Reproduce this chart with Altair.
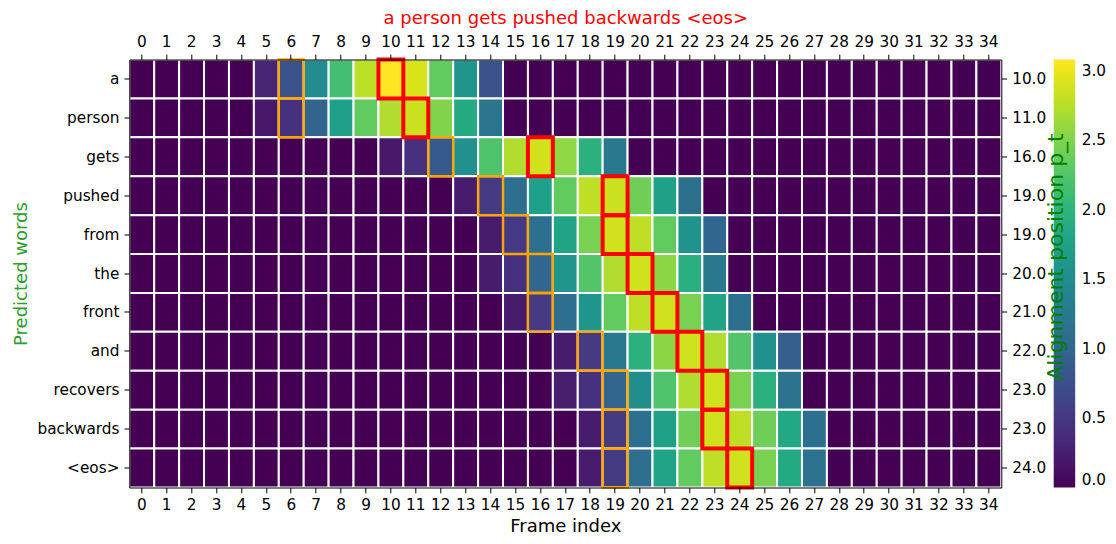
import json
import altair as alt
import pandas as pd

# ---------------- data ----------------
WORDS = ["a", "person", "gets", "pushed", "from", "the", "front", "and",
         "recovers", "backwards", "<eos>"]
FRAMES = list(range(35))
P_T = [10.0, 11.0, 16.0, 19.0, 19.0, 20.0, 21.0, 22.0, 23.0, 23.0, 24.0]
ORANGE_FRAMES = [6, 6, 12, 14, 15, 16, 16, 18, 19, 19, 19]
ROW_START = [5, 5, 10, 13, 14, 14, 15, 17, 17, 18, 18]
ROW_VALUES = [
    [0.31, 0.77, 1.48, 2.16, 2.77, 3.08, 2.90, 2.34, 1.60, 0.77],
    [0.20, 0.43, 0.98, 1.75, 2.34, 2.72, 2.84, 2.50, 1.88, 1.20],
    [0.20, 0.42, 0.86, 1.54, 2.22, 2.72, 2.87, 2.56, 1.97, 1.23],
    [0.22, 0.52, 1.10, 1.75, 2.34, 2.78, 2.84, 2.40, 1.76, 1.13],
    [0.22, 0.50, 1.12, 1.80, 2.46, 2.86, 2.78, 2.34, 1.58, 1.02],
    [0.22, 0.43, 1.00, 1.60, 2.25, 2.72, 2.86, 2.55, 1.94, 1.23],
    [0.22, 0.52, 1.10, 1.62, 2.34, 2.78, 2.86, 2.46, 1.80, 1.12],
    [0.22, 0.52, 1.23, 1.97, 2.55, 2.86, 2.72, 2.25, 1.54, 0.92],
    [0.24, 0.43, 1.00, 1.50, 2.22, 2.72, 2.86, 2.46, 1.97, 1.18],
    [0.22, 0.52, 1.12, 1.76, 2.40, 2.86, 2.78, 2.40, 1.85, 1.12],
    [0.22, 0.52, 1.10, 1.80, 2.34, 2.78, 2.86, 2.46, 1.88, 1.16],
]
COLOR_MAX = 3.08
CBAR_TICKS = [0.0, 0.5, 1.0, 1.5, 2.0, 2.5, 3.0]
TITLE = "a person gets pushed backwards <eos>"
CBAR_TITLE = "Alignment position p_t"

# ---------------- tables ----------------
rows = []
for i, w in enumerate(WORDS):
    s = ROW_START[i]
    vals = ROW_VALUES[i]
    for f in FRAMES:
        v = vals[f - s] if s <= f < s + len(vals) else 0.0
        rows.append({"word": w, "frame": f, "value": v})
heat_df = pd.DataFrame(rows)
orange_df = pd.DataFrame({"word": WORDS, "frame": ORANGE_FRAMES})
red_df = pd.DataFrame({"word": WORDS, "frame": [int(p) for p in P_T]})
PT_LABELS = [f"{p:.1f}" for p in P_T]

FONT = "DejaVu Sans"
W, H = 872, 428
TICK_FS = 15.3
LABEL_FS = 18

xscale = alt.Scale(paddingInner=0, paddingOuter=0)
yscale = alt.Scale(paddingInner=0, paddingOuter=0)

common_axis = dict(labelFont=FONT, labelFontSize=TICK_FS, labelColor="black",
                   tickColor="black", tickSize=5.35, tickWidth=1,
                   domainColor="black", domainWidth=1, labelPadding=5,
                   titleFont=FONT, titleFontWeight="normal",
                   grid=False, zindex=1, labelOverlap=False)

heat = alt.Chart(heat_df).mark_rect(stroke="white", strokeWidth=2).encode(
    x=alt.X("frame:O", sort="ascending", scale=xscale,
            axis=alt.Axis(orient="bottom", title="Frame index", labelAngle=0,
                          titleColor="black", titleFontSize=LABEL_FS,
                          titleX=W / 2, titleY=44,
                          titleAlign="center", titleBaseline="alphabetic",
                          **common_axis)),
    y=alt.Y("word:N", sort=WORDS, scale=yscale,
            axis=alt.Axis(orient="left", title="Predicted words", labelAngle=0,
                          titleColor="#2ca02c", titleFontSize=LABEL_FS,
                          titleAngle=270,
                          titleX=-102.5, titleY=H / 2, titleAlign="center",
                          titleBaseline="alphabetic", **common_axis)),
    color=alt.Color("value:Q",
                    scale=alt.Scale(scheme="viridis", domain=[0, COLOR_MAX]),
                    legend=alt.Legend(orient="none", legendX=924.4, legendY=0,
                                      direction="vertical", title=None,
                                      gradientLength=H, gradientThickness=21.5,
                                      values=CBAR_TICKS, format=".1f",
                                      labelFont=FONT, labelFontSize=TICK_FS,
                                      labelColor="black", labelOffset=6.5,
                                      gradientStrokeWidth=0, zindex=0)),
)

label_expr = f"{json.dumps(PT_LABELS)}[indexof({json.dumps(WORDS)}, datum.value)]"

orange = alt.Chart(orange_df).mark_rect(fillOpacity=0, stroke="#ffa500",
                                         strokeWidth=2.4).encode(
    x=alt.X("frame:O", sort="ascending", scale=xscale,
            axis=alt.Axis(orient="top", title=TITLE, labelAngle=0,
                          titleColor="red", titleFontSize=LABEL_FS,
                          titleX=W / 2, titleY=-36.5,
                          titleAlign="center", titleBaseline="alphabetic",
                          **common_axis)),
    y=alt.Y("word:N", sort=WORDS, scale=yscale,
            axis=alt.Axis(orient="right", title=CBAR_TITLE, labelAngle=0,
                          labelExpr=label_expr, titleColor="#008000",
                          titleFontSize=22, titleAngle=270,
                          titleX=61, titleY=197, titleAlign="center",
                          titleBaseline="alphabetic", **common_axis)),
)

red = alt.Chart(red_df).mark_rect(fillOpacity=0, stroke="red",
                                   strokeWidth=4).encode(
    x=alt.X("frame:O", sort="ascending", scale=xscale, axis=None),
    y=alt.Y("word:N", sort=WORDS, scale=yscale, axis=None),
)

chart = alt.layer(heat, orange, red).resolve_axis(
    x="independent", y="independent"
).properties(
    width=W, height=H,
    autosize=alt.AutoSizeParams(type="none"),
    padding={"left": 121.3, "top": 51.5, "right": 106.7, "bottom": 48.5},
).configure_view(stroke=None)

chart.save("out.html", embed_options={"renderer": "svg", "actions": False})
